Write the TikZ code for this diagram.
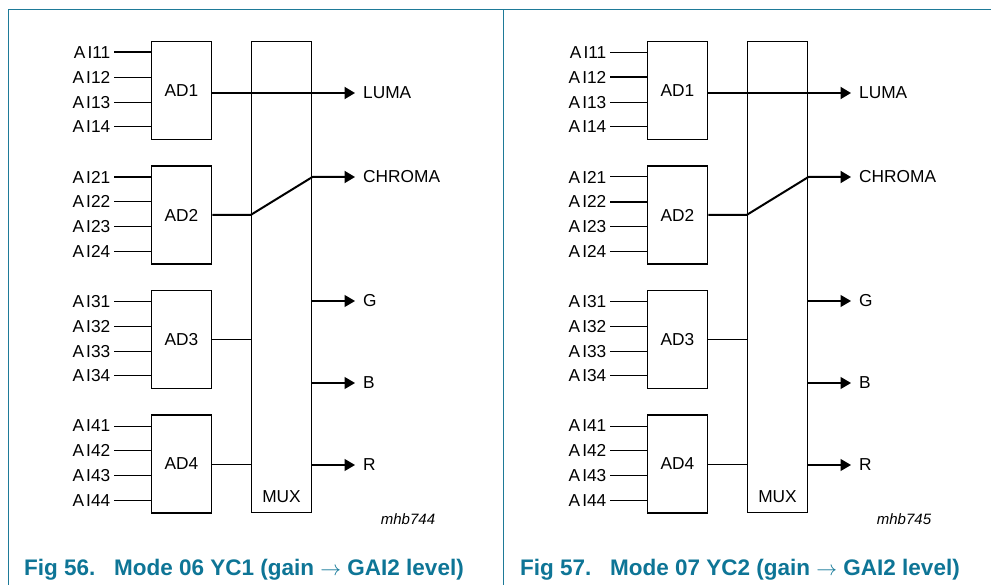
\documentclass[tikz,border=0pt]{standalone}
\usepackage{fontspec}
\setmainfont{Liberation Sans}
\usetikzlibrary{arrows.meta,calc}
\definecolor{capblue}{RGB}{14,117,150}
\definecolor{framec}{RGB}{30,122,152}
\newcommand\labfont{\fontsize{17.3}{20}\selectfont}
\newcommand\AIlab[1]{A\kern2.2ptI#1}
\tikzset{
  adbox/.style={draw, line width=1.8pt, minimum width=60pt, minimum height=98pt, inner sep=0pt, font=\labfont},
  muxbox/.style={draw, line width=1.8pt, minimum width=60pt, minimum height=471pt, inner sep=0pt},
  inlab/.style={anchor=east, inner xsep=3.5pt, inner ysep=0pt, font=\labfont},
  outlab/.style={anchor=west, inner xsep=3pt, inner ysep=0pt, font=\labfont},
  sigline/.style={line width=1pt},
  midline/.style={line width=1.3pt},
  boldline/.style={line width=2pt},
  tip/.style={-{Triangle[length=10.5pt,width=12pt]}},
  caption/.style={anchor=base west, inner sep=0pt, text=capblue, font=\fontsize{22.5}{26}\selectfont\bfseries},
  mhb/.style={inner sep=0pt, font=\fontsize{15}{18}\selectfont\itshape},
}
% #1 prefix, #2 xshift, #3 thick input of AD1, #4 thick input of AD2, #5 mhb code, #6 fig no, #7 caption text
\newcommand\drawpanel[7]{%
\begin{scope}[xshift=#2]
  \foreach \k in {1,...,4} {
    \pgfmathsetmacro\boxtop{41+124.5*(\k-1)}
    \node[adbox] (#1AD\k) at (181.5,\boxtop+49.5) {AD\k};
    \foreach \j in {1,...,4} {
      \pgfmathsetmacro\yy{\boxtop+11.5+24.8*(\j-1)}
      \pgfmathtruncatemacro\isthick{((\k==1)&&(\j==#3))||((\k==2)&&(\j==#4))}
      \ifnum\isthick=1 \def\lw{2pt}\else\def\lw{1pt}\fi
      \node[inlab] (#1AI\k\j) at (114,\yy) {\AIlab{\k\j}};
      \draw[line width=\lw] (#1AI\k\j.east) -- (#1AD\k.west |- #1AI\k\j.east);
    }
  }
  \node[muxbox] (#1MUX) at (281.5,277) {};
  \node[inner sep=0pt, font=\labfont] (#1MUXl) at (281.5,497) {MUX};
  \coordinate (#1oLUMA) at (355,93);
  \coordinate (#1oCHROMA) at (355,177);
  \coordinate (#1oG) at (355,301);
  \coordinate (#1oB) at (355,383);
  \coordinate (#1oR) at (355,465);
  \node[outlab] (#1lLUMA) at (#1oLUMA) [xshift=5pt] {LUMA};
  \node[outlab] (#1lCHROMA) at (#1oCHROMA) [xshift=5pt] {CHROMA};
  \node[outlab] (#1lG) at (#1oG) [xshift=5pt] {G};
  \node[outlab] (#1lB) at (#1oB) [xshift=5pt] {B};
  \node[outlab] (#1lR) at (#1oR) [xshift=5pt] {R};
  \draw[boldline, tip] (#1AD1.east |- #1oLUMA) -- (#1oLUMA);
  \draw[boldline, tip, line join=round] (#1AD2.east) -- (#1MUX.west |- #1AD2.east) -- (#1MUX.east |- #1oCHROMA) -- (#1oCHROMA);
  \draw[sigline] (#1AD3.east) -- (#1MUX.west |- #1AD3.east);
  \draw[sigline] (#1AD4.east) -- (#1MUX.west |- #1AD4.east);
  \draw[midline, tip] (#1MUX.east |- #1oG) -- (#1oG);
  \draw[midline, tip] (#1MUX.east |- #1oB) -- (#1oB);
  \draw[midline, tip] (#1MUX.east |- #1oR) -- (#1oR);
  \node[mhb] (#1mhb) at (408,519) {#5};
  \node[caption] (#1fig) at (24,575) {Fig #6.};
  \node[caption] (#1cap) at (114,575) {#7};
\end{scope}}

\begin{document}
\begin{tikzpicture}[x=1pt,y=-1pt]
  \useasboundingbox (0,0) rectangle (991,585);
  \draw[framec, line width=1.1pt] (8.5,585) -- (8.5,9.3) -- (991,9.3);
  \draw[framec, line width=1.1pt] (503.5,9.3) -- (503.5,585);
  \drawpanel{L}{0pt}{1}{1}{mhb744}{56}{Mode 06 YC1 (gain $\rightarrow$ GAI2 level)}
  \drawpanel{R}{496pt}{2}{2}{mhb745}{57}{Mode 07 YC2 (gain $\rightarrow$ GAI2 level)}
\end{tikzpicture}
\end{document}
